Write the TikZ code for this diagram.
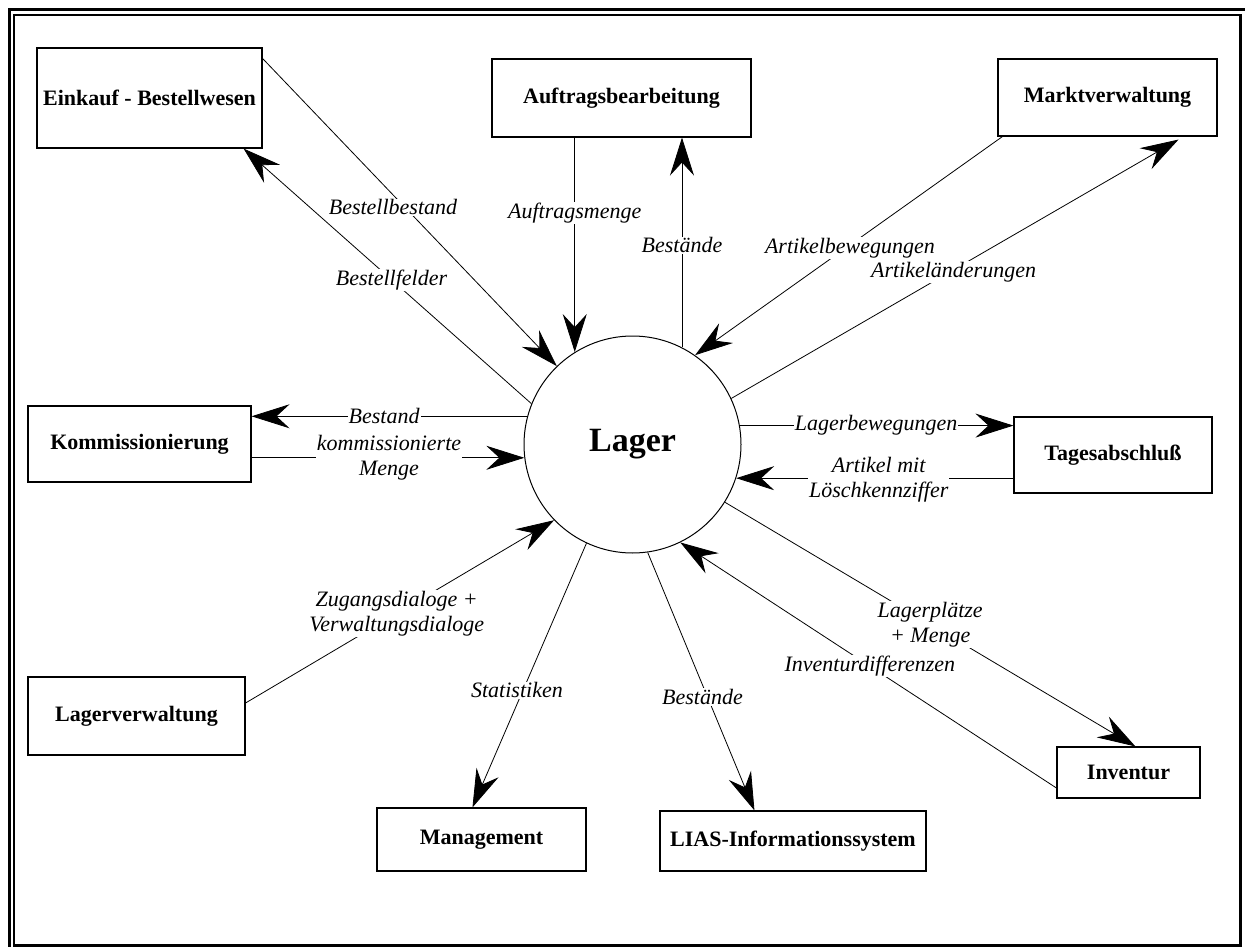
\documentclass[tikz,border=0pt]{standalone}
\usepackage{fontspec}
\setmainfont{Liberation Serif}
\usetikzlibrary{arrows.meta,calc}
\begin{document}
\begin{tikzpicture}[x=1pt,y=-1pt,
  box/.style={draw, line width=1.1pt, inner sep=0pt, align=center,
    font=\fontsize{22}{25}\selectfont\bfseries},
  store/.style={draw, circle, line width=1pt, inner sep=0pt,
    minimum size=217pt, font=\fontsize{34}{38}\selectfont\bfseries},
  flow/.style={line width=0.8pt, -{Stealth[length=38pt,width=24pt,inset=13pt]}},
  lbl/.style={fill=white, inner sep=1pt, align=center,
    font=\fontsize{22}{25}\selectfont\itshape}]
\useasboundingbox (0,0) rectangle (1245,947);

% double frame
\draw[line width=2.7pt] (9.7,947) -- (9.7,9.7) -- (1245,9.7);
\draw[line width=2.5pt] (13.8,15) rectangle (1240.3,945.3);
\draw[line width=3.5pt] (1240.3,15) -- (1240.3,945.3);

% central store
\node[store] (lager) at (632.5,444.5) {Lager};

% surrounding systems
\node[box, minimum width=225pt, minimum height=100pt] (eink)  at (149.5,98)   {Einkauf - Bestellwesen};
\node[box, minimum width=259pt, minimum height=78pt]  (auftr) at (621.5,98)   {Auftragsbearbeitung};
\node[box, minimum width=219pt, minimum height=77pt]  (markt) at (1107.5,97.5) {Marktverwaltung};
\node[box, minimum width=223pt, minimum height=76pt]  (komm)  at (139.5,444)  {Kommissionierung};
\node[box, minimum width=198pt, minimum height=76pt]  (tages) at (1113,455)   {Tagesabschluß};
\node[box, minimum width=217pt, minimum height=78pt]  (lverw) at (136.5,716)  {Lagerverwaltung};
\node[box, minimum width=209pt, minimum height=63pt]  (mgmt)  at (481.5,839.5) {Management};
\node[box, minimum width=266pt, minimum height=60pt]  (lias)  at (793,841)    {LIAS-Informationssystem};
\node[box, minimum width=143pt, minimum height=51pt]  (inv)   at (1128.5,772.5) {Inventur};

% data flows
\draw[flow] ($(eink.north east)+(0,11)$) -- node[lbl, pos=0.484, xshift=-12pt] {Bestellbestand} (lager.134.6);
\draw[flow] (lager.158.2) -- node[lbl, pos=0.486] {Bestellfelder} ($(eink.south east)+(-19,0)$);
\draw[flow] (lager.122.6 |- auftr.south) -- node[lbl, pos=0.35] {Auftragsmenge} (lager.122.6);
\draw[flow] (lager.63.45) -- node[lbl, pos=0.486] {Bestände} (lager.63.45 |- auftr.south);
\draw[flow] ($(markt.south west)+(5,0)$) -- node[lbl, pos=0.509, xshift=4pt] {Artikelbewegungen} (lager.55.9);
\draw[flow] (lager.25.3) -- node[lbl, pos=0.488, xshift=4pt] {Artikeländerungen} ($(markt.south east)+(-39,3)$);
\draw[flow] (lager.165.3) -- node[lbl, pos=0.519] {Bestand} (lager.165.3 -| komm.east);
\draw[flow] (lager.187.15 -| komm.east) -- node[lbl, pos=0.504] {kommissionierte\\Menge} (lager.187.15);
\draw[flow] (lager.10.9) -- node[lbl, pos=0.498] {Lagerbewegungen} (lager.10.9 -| tages.west);
\draw[flow] (lager.-18 -| tages.west) -- node[lbl, pos=0.486, yshift=-1.5pt] {Artikel mit\\Löschkennziffer} (lager.-18);
\draw[flow] (lager.-32) -- node[lbl, pos=0.5] {Lagerplätze\\+ Menge} ($(inv.north west)+(79,0)$);
\draw[flow] ($(inv.west)+(0,15.5)$) -- node[lbl, pos=0.496] {Inventurdifferenzen} (lager.-64.8);
\draw[flow] ($(lverw.east)+(0,-13)$) -- node[lbl, pos=0.49] {Zugangsdialoge +\\Verwaltungsdialoge} (lager.224.8);
\draw[flow] (lager.245.85) -- node[lbl, pos=0.557, xshift=-6pt] {Statistiken} ($(mgmt.north west)+(96,0)$);
\draw[flow] (lager.-82.3) -- node[lbl, pos=0.56, xshift=-5pt] {Bestände} ($(lias.north west)+(95,0)$);
\end{tikzpicture}
\end{document}
